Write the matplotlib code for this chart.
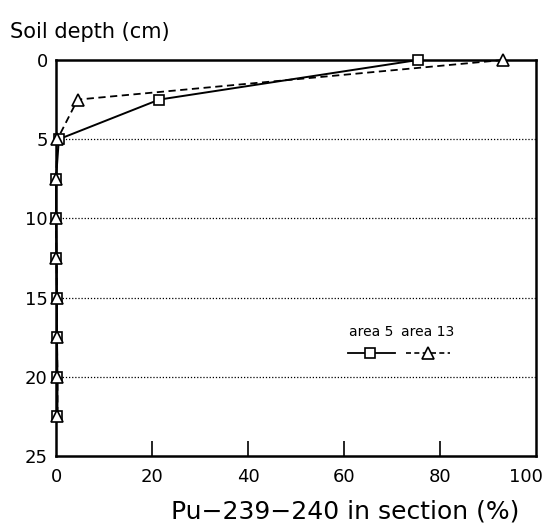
import matplotlib
matplotlib.use("Agg")
import matplotlib.pyplot as plt
import matplotlib.transforms as mtransforms
from matplotlib.lines import Line2D

depth = [0, 2.5, 5, 7.5, 10, 12.5, 15, 17.5, 20, 22.5]
area5 = [75.4, 21.5, 0.6, 0.0, 0.0, 0.1, 0.2, 0.2, 0.3, 0.3]
area13 = [93.1, 4.5, 0.3, 0.0, 0.0, 0.1, 0.2, 0.2, 0.3, 0.3]
xticks = [0, 20, 40, 60, 80, 100]
yticks = [0, 5, 10, 15, 20, 25]
grid_depths = [5, 10, 15, 20]

plt.rcParams['font.family'] = ['DejaVu Sans']

fig = plt.figure(figsize=(5.49, 5.29), dpi=100)
W, H = 549, 529
x0, x1, y0, y1 = 56, 536, 60, 456
ax = fig.add_axes([x0 / W, 1 - y1 / H, (x1 - x0) / W, (y1 - y0) / H])

for d in grid_depths:
    ax.axhline(d, color='black', lw=0.9, ls=(0, (1, 1.5)), zorder=1)

ax.plot(area5, depth, color='black', lw=1.4, marker='s', ms=7.5,
        mfc='white', mec='black', mew=1.2, zorder=3, clip_on=False)
ax.plot(area13, depth, color='black', lw=1.3, ls=(0, (4, 2.5)), marker='^', ms=8,
        mfc='white', mec='black', mew=1.2, zorder=3, clip_on=False)

ax.set_xlim(0, 100)
ax.set_ylim(25, 0)
for s in ax.spines.values():
    s.set_linewidth(1.8)

ax.set_xticks(xticks)
ax.set_xticklabels([str(v) for v in xticks], fontsize=13)
ax.set_yticks(yticks)
ax.set_yticklabels([str(v) for v in yticks], fontsize=13)
ax.tick_params(axis='x', direction='in', length=11, width=1.2, pad=9)
ax.tick_params(axis='y', length=0, pad=6)
xt = ax.xaxis.get_major_ticks()
xt[0].tick1line.set_visible(False)
xt[-1].tick1line.set_visible(False)
lab = xt[-1].label1
lab.set_transform(lab.get_transform() + mtransforms.ScaledTranslation(-10 / 100, 0, fig.dpi_scale_trans))

fig.text(10 / W, 1 - 32 / H, 'Soil depth (cm)', fontsize=15, ha='left', va='center')
fig.text(345 / W, 1 - 512 / H, 'Pu\u2212239\u2212240 in section (%)', fontsize=18,
         ha='center', va='center')

def fx(px):
    return (px - x0) / (x1 - x0)

def fy(py):
    return (y1 - py) / (y1 - y0)

ax.text(fx(371), fy(332), 'area 5', transform=ax.transAxes, ha='center', va='center',
        fontsize=10)
ax.text(fx(428), fy(332), 'area 13', transform=ax.transAxes, ha='center', va='center',
        fontsize=10)
ax.add_line(Line2D([fx(348), fx(395)], [fy(353)] * 2, transform=ax.transAxes,
                   color='black', lw=1.3))
ax.add_line(Line2D([fx(370)], [fy(353)], transform=ax.transAxes, marker='s', ms=7.5,
                   mfc='white', mec='black', mew=1.2, ls='none'))
ax.add_line(Line2D([fx(406), fx(450)], [fy(353)] * 2, transform=ax.transAxes,
                   color='black', lw=1.2, ls=(0, (3, 2))))
ax.add_line(Line2D([fx(428)], [fy(353)], transform=ax.transAxes, marker='^', ms=8,
                   mfc='white', mec='black', mew=1.2, ls='none'))

fig.savefig('out.png', dpi=100)
